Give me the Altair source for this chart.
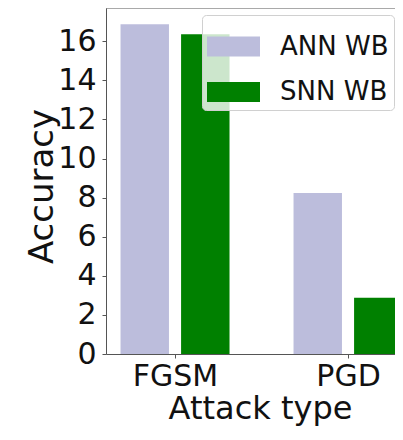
import json
import altair as alt
import pandas as pd

# ---- data ----
attacks = ["FGSM", "PGD"]
series = ["ANN WB", "SNN WB"]
ann_wb = [16.87, 8.23]
snn_wb = [16.36, 2.88]
colors = ["#bcbddc", "#008000"]
y_ticks = [0, 2, 4, 6, 8, 10, 12, 14, 16]

rows = []
for i, a in enumerate(attacks):
    rows.append({"attack": a, "idx": i, "model": series[0], "accuracy": ann_wb[i]})
    rows.append({"attack": a, "idx": i, "model": series[1], "accuracy": snn_wb[i]})
df = pd.DataFrame(rows)

FONT = "DejaVu Sans"
YMAX = 17.7
PLOT_W = 289
XDOM = [-0.399, -0.399 + PLOT_W / 173.0]

xscale = alt.Scale(domain=XDOM, nice=False, zero=False)
yscale = alt.Scale(domain=[0, YMAX], nice=False)

label_expr = json.dumps(attacks) + "[datum.value]"

bars = (
    alt.Chart(df)
    .transform_calculate(
        xc="datum.idx + (datum.model == '" + series[0] + "' ? -0.175 : 0.175)"
    )
    .transform_calculate(x0="datum.xc - 0.14", x1="datum.xc + 0.14")
    .mark_rect(opacity=1, clip=False)
    .encode(
        x=alt.X(
            "x0:Q",
            scale=xscale,
            axis=alt.Axis(
                values=[0, 1],
                labelExpr=label_expr,
                title="Attack type",
                grid=False,
                labelFontSize=30,
                labelFont=FONT,
                labelColor="#111",
                labelPadding=3,
                tickSize=4,
                tickColor="#555",
                domainColor="#555",
                titleFontSize=32,
                titleFont=FONT,
                titleFontWeight="normal",
                titleColor="#111",
                titleX=154,
                titleY=64,
                titleAlign="center",
                titleBaseline="alphabetic",
            ),
        ),
        x2="x1:Q",
        y=alt.Y(
            "accuracy:Q",
            scale=yscale,
            axis=alt.Axis(
                values=y_ticks,
                title="Accuracy",
                grid=False,
                labelFontSize=30,
                labelFont=FONT,
                labelColor="#111",
                labelPadding=6,
                tickSize=4,
                tickColor="#555",
                domainColor="#555",
                titleFontSize=34,
                titleFont=FONT,
                titleFontWeight="normal",
                titleColor="#111",
                titleX=-54,
                titleY=178,
                titleAlign="center",
                titleBaseline="alphabetic",
            ),
        ),
        y2=alt.datum(0),
        color=alt.Color(
            "model:N",
            scale=alt.Scale(domain=series, range=colors),
            legend=alt.Legend(
                title=None,
                orient="none",
                legendX=96,
                legendY=7,
                fillColor="rgba(255,255,255,0.8)",
                strokeColor="#d0d0d0",
                cornerRadius=4,
                padding=5,
                labelFontSize=26,
                labelFont=FONT,
                labelColor="#111",
                labelOffset=20,
                rowPadding=5.5,
                symbolType="M-1,-0.377H1V0.377H-1Z",
                symbolSize=2809,
                symbolStrokeWidth=0,
                symbolOpacity=1,
            ),
        ),
    )
)

top_spine = (
    alt.Chart(pd.DataFrame({"ymax": [YMAX]}))
    .mark_rule(color="#555", strokeWidth=1)
    .encode(y=alt.Y("ymax:Q", scale=yscale))
)

chart = (
    alt.layer(bars, top_spine)
    .properties(
        width=PLOT_W,
        height=346,
        autosize=alt.AutoSizeParams(type="none"),
        padding={"left": 98, "top": 0, "right": 0, "bottom": 72},
    )
    .configure_view(stroke=None)
)

chart.save("out.html", embed_options={"renderer": "svg", "actions": False})
